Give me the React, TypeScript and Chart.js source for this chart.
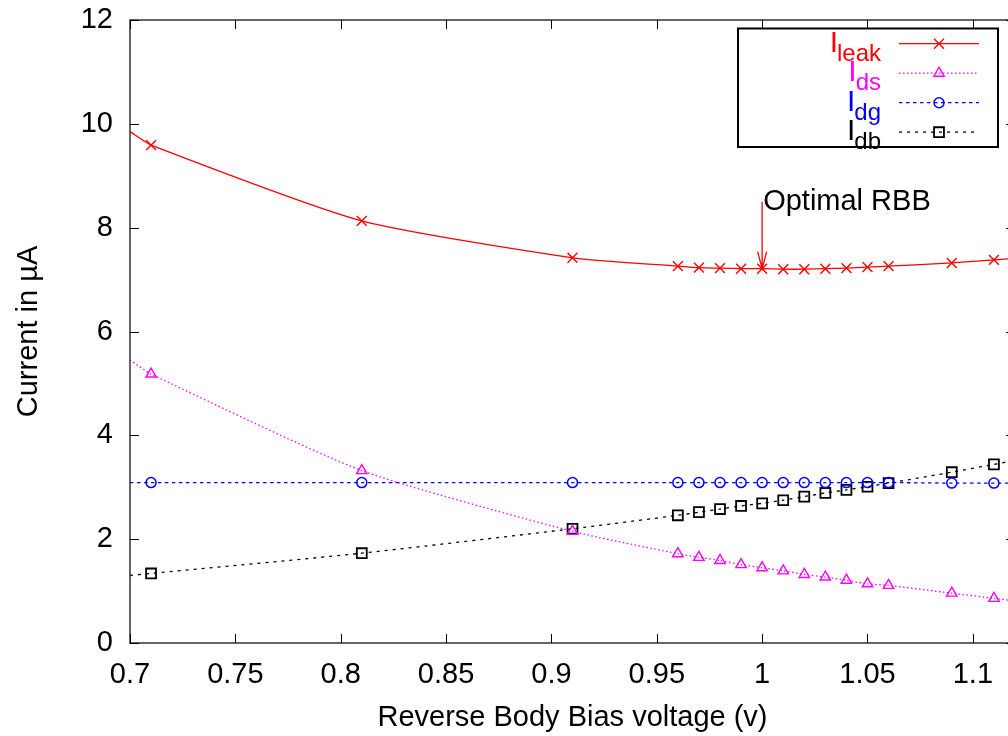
import React, { useEffect, useRef } from "react";
import { Chart, registerables } from "chart.js";

Chart.register(...registerables);

// Reverse body bias voltage (v). First and last entries are where the curves meet the frame (no marker).
const voltages = [0.7, 0.71, 0.81, 0.91, 0.96, 0.97, 0.98, 0.99, 1.0, 1.01, 1.02, 1.03, 1.04, 1.05, 1.06, 1.09, 1.11, 1.12];
const iLeak = [9.85, 9.59, 8.13, 7.42, 7.26, 7.23, 7.22, 7.21, 7.21, 7.2, 7.2, 7.21, 7.22, 7.24, 7.26, 7.32, 7.38, 7.41];
const iDs = [5.45, 5.18, 3.32, 2.15, 1.72, 1.65, 1.59, 1.51, 1.45, 1.39, 1.32, 1.27, 1.21, 1.14, 1.11, 0.96, 0.86, 0.81];
const iDg = [3.09, 3.09, 3.09, 3.09, 3.09, 3.09, 3.09, 3.09, 3.09, 3.09, 3.09, 3.09, 3.09, 3.09, 3.09, 3.08, 3.08, 3.08];
const iDb = [1.3, 1.34, 1.73, 2.2, 2.46, 2.52, 2.58, 2.64, 2.69, 2.75, 2.82, 2.89, 2.95, 3.01, 3.08, 3.29, 3.44, 3.52];

const xTicks = [0.7, 0.75, 0.8, 0.85, 0.9, 0.95, 1.0, 1.05, 1.1];
const yTicks = [0, 2, 4, 6, 8, 10, 12];

const seriesNames = ["leak", "ds", "dg", "db"];
const seriesColors = ["#ff0000", "#ff00ff", "#0000ff", "#000000"];

const optimalVoltage = 1.0;
const optimalLabelY = 8.5;
const optimalLabel = "Optimal RBB";

const FONT = "'Liberation Sans', Arial, Helvetica, sans-serif";

function drawMarker(ctx: CanvasRenderingContext2D, style: string, x: number, y: number, r: number) {
  ctx.beginPath();
  if (style === "crossRot") {
    const d = r * Math.SQRT1_2;
    ctx.moveTo(x - d, y - d);
    ctx.lineTo(x + d, y + d);
    ctx.moveTo(x + d, y - d);
    ctx.lineTo(x - d, y + d);
  } else if (style === "triangle") {
    for (let i = 0; i < 3; i++) {
      const a = (i * 2 * Math.PI) / 3;
      const px = x + Math.sin(a) * r;
      const py = y - Math.cos(a) * r;
      if (i === 0) ctx.moveTo(px, py);
      else ctx.lineTo(px, py);
    }
    ctx.closePath();
  } else if (style === "circle") {
    ctx.arc(x, y, r, 0, Math.PI * 2);
  } else {
    const s = r * Math.SQRT1_2;
    ctx.rect(x - s, y - s, 2 * s, 2 * s);
  }
  ctx.stroke();
}

export default function App() {
  const ref = useRef<HTMLCanvasElement | null>(null);

  useEffect(() => {
    if (!ref.current) return;
    const pts = (ys: number[]) => voltages.map((v, i) => ({ x: v, y: ys[i] }));
    const radii = (r: number) => voltages.map((_, i) => (i === 0 || i === voltages.length - 1 ? 0 : r));

    const styles = ["crossRot", "triangle", "circle", "rect"];
    const radiusList = [7, 6, 5, 7];
    const dashes: number[][] = [[], [1.5, 2.5], [3.5, 3.5], [3, 5]];
    const widths = [1.3, 1.3, 1.3, 1.3];
    const pointWidths = [1.4, 1.4, 1.5, 1.8];
    const values = [iLeak, iDs, iDg, iDb];

    const framePlugin = {
      id: "frame",
      afterDatasetsDraw(chart: any) {
        const { ctx, chartArea: a, scales } = chart;
        ctx.save();
        ctx.strokeStyle = "#333";
        ctx.lineWidth = 1.5;
        ctx.strokeRect(a.left, a.top, a.right - a.left, a.bottom - a.top);
        ctx.lineWidth = 1;
        ctx.strokeStyle = "#000";
        const tl = 9;
        ctx.beginPath();
        xTicks.forEach((v) => {
          const x = Math.round(scales.x.getPixelForValue(v)) + 0.5;
          ctx.moveTo(x, a.bottom);
          ctx.lineTo(x, a.bottom - tl);
          ctx.moveTo(x, a.top);
          ctx.lineTo(x, a.top + tl);
        });
        yTicks.forEach((v) => {
          const y = Math.round(scales.y.getPixelForValue(v)) + 0.5;
          ctx.moveTo(a.left, y);
          ctx.lineTo(a.left + tl, y);
          ctx.moveTo(a.right, y);
          ctx.lineTo(a.right - tl, y);
        });
        ctx.stroke();

        // annotation arrow + label
        const idx = voltages.indexOf(optimalVoltage);
        const ax = scales.x.getPixelForValue(optimalVoltage);
        const yTop = scales.y.getPixelForValue(optimalLabelY);
        const yTip = scales.y.getPixelForValue(iLeak[idx]);
        ctx.strokeStyle = "#ff0000";
        ctx.lineWidth = 1.3;
        ctx.beginPath();
        ctx.moveTo(ax, yTop);
        ctx.lineTo(ax, yTip);
        ctx.moveTo(ax - 4.5, yTip - 17);
        ctx.lineTo(ax, yTip);
        ctx.lineTo(ax + 4.5, yTip - 17);
        ctx.stroke();
        ctx.fillStyle = "#000";
        ctx.font = `29px ${FONT}`;
        ctx.textAlign = "left";
        ctx.textBaseline = "alphabetic";
        ctx.fillText(optimalLabel, ax + 1, yTop + 8.5);

        // legend
        ctx.lineWidth = 2;
        ctx.strokeStyle = "#000";
        ctx.strokeRect(738, 28.5, 260, 118.5);
        const rowY = [43.7, 73.2, 102.7, 132.2];
        seriesNames.forEach((name, i) => {
          const y = rowY[i];
          const col = seriesColors[i];
          ctx.font = `24px ${FONT}`;
          const sw = ctx.measureText(name).width;
          ctx.fillStyle = col;
          ctx.textAlign = "right";
          ctx.fillText(name, 881, y + 17);
          ctx.font = `30px ${FONT}`;
          ctx.fillText("I", 881 - sw + 1, y + 8);
          ctx.strokeStyle = col;
          ctx.lineWidth = widths[i];
          ctx.setLineDash(dashes[i]);
          ctx.beginPath();
          ctx.moveTo(899, y);
          ctx.lineTo(979, y);
          ctx.stroke();
          ctx.setLineDash([]);
          ctx.lineWidth = pointWidths[i];
          drawMarker(ctx, styles[i], 939, y, radiusList[i]);
        });
        ctx.restore();
      },
    };

    const chart = new Chart(ref.current, {
      type: "line",
      data: {
        datasets: values.map((ys, i) => ({
          label: "I" + seriesNames[i],
          data: pts(ys),
          borderColor: seriesColors[i],
          backgroundColor: "transparent",
          borderWidth: widths[i],
          borderDash: dashes[i],
          pointStyle: styles[i] as any,
          pointRadius: radii(radiusList[i]),
          pointBorderWidth: pointWidths[i],
          pointBorderColor: seriesColors[i],
          pointBackgroundColor: "transparent",
          tension: 0.2,
          fill: false,
        })),
      },
      options: {
        responsive: false,
        animation: false,
        events: [],
        layout: { padding: { top: 20, right: 1, left: 0, bottom: 0 } },
        plugins: { legend: { display: false }, tooltip: { enabled: false } },
        scales: {
          x: {
            type: "linear",
            min: 0.7,
            max: 1.12,
            grid: { display: false },
            border: { display: false },
            afterBuildTicks: (s: any) => {
              s.ticks = xTicks.map((v) => ({ value: v }));
            },
            afterFit: (s: any) => {
              s.height = 93;
              s.paddingLeft = 0;
              s.paddingRight = 0;
            },
            ticks: {
              color: "#000",
              font: { family: FONT, size: 29 },
              padding: 7,
              maxRotation: 0,
              autoSkip: false,
              callback: (v: any) => String(Number(Number(v).toFixed(2))),
            },
            title: {
              display: true,
              text: "Reverse Body Bias voltage (v)",
              color: "#000",
              font: { family: FONT, size: 29 },
              padding: { top: 0, bottom: 1 },
            },
          },
          y: {
            type: "linear",
            min: 0,
            max: 12,
            grid: { display: false },
            border: { display: false },
            afterBuildTicks: (s: any) => {
              s.ticks = yTicks.map((v) => ({ value: v }));
            },
            afterFit: (s: any) => {
              s.width = 130;
              s.paddingTop = 0;
              s.paddingBottom = 0;
            },
            ticks: {
              color: "#000",
              font: { family: FONT, size: 29 },
              padding: 9,
              autoSkip: false,
            },
            title: {
              display: true,
              text: "Current in µA",
              color: "#000",
              font: { family: FONT, size: 29 },
              padding: { top: 12, bottom: 0 },
            },
          },
        },
      },
      plugins: [framePlugin],
    });
    return () => chart.destroy();
  }, []);

  return (
    <div style={{ position: "absolute", left: 0, top: 0, width: 1008, height: 736, overflow: "hidden", background: "#fff" }}>
      <canvas ref={ref} width={1016} height={736} style={{ display: "block", width: 1016, height: 736 }} />
    </div>
  );
}
